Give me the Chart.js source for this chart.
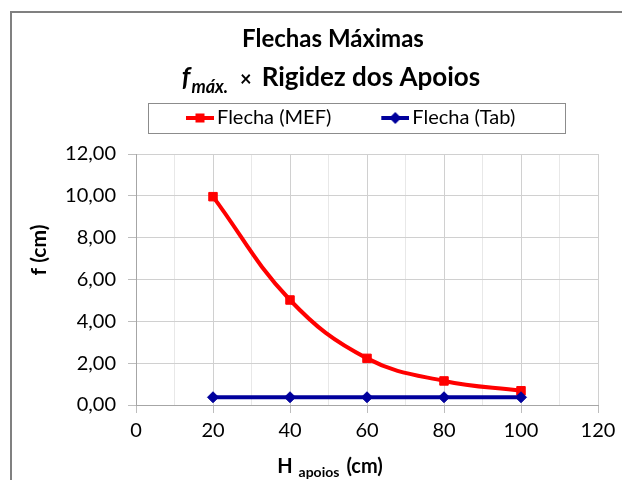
<!DOCTYPE html>
<html>
<head>
<meta charset="utf-8">
<script src="https://cdn.jsdelivr.net/npm/chart.js@4.4.1/dist/chart.umd.min.js"></script>
<style>
  html, body { margin: 0; padding: 0; background: #fff; }
  canvas { display: block; }
</style>
</head>
<body>
<canvas id="myChart" width="622" height="480"></canvas>
<script>
// valores
const apoios = [20, 40, 60, 80, 100];
const flechaMEF = [9.96, 5.02, 2.23, 1.15, 0.68];
const flechaTab = [0.37, 0.37, 0.37, 0.37, 0.37];
const xTickLabels = ['0', '20', '40', '60', '80', '100', '120'];
const yTickLabels = ['0,00', '2,00', '4,00', '6,00', '8,00', '10,00', '12,00'];

const FONT = 'Lato';
const RED = '#ff0000';
const BLUE = '#00009c';
const MARGEM = 21; // espaco transparente antes do marcador da legenda

// marcador da legenda: linha + simbolo
const legendMark = (color, shape) => {
  const c = document.createElement('canvas');
  c.width = MARGEM + 28; c.height = 14;
  const g = c.getContext('2d');
  const mx = MARGEM + 14;
  g.strokeStyle = color; g.lineWidth = 4;
  g.beginPath(); g.moveTo(MARGEM, 7); g.lineTo(MARGEM + 28, 7); g.stroke();
  g.fillStyle = color;
  if (shape === 'rect') {
    g.fillRect(mx - 4.5, 2.5, 9, 9);
  } else {
    g.beginPath(); g.moveTo(mx, 1); g.lineTo(mx + 6, 7); g.lineTo(mx, 13); g.lineTo(mx - 6, 7); g.closePath(); g.fill();
  }
  return c;
};

const drawRuns = (ctx, runs, cx, baseline) => {
  let total = 0;
  runs.forEach(r => { ctx.font = r.font; r.w = ctx.measureText(r.t).width; total += r.w + (r.gap || 0); });
  let x = cx - total / 2;
  ctx.textAlign = 'left';
  ctx.textBaseline = 'alphabetic';
  runs.forEach(r => {
    ctx.font = r.font;
    ctx.fillText(r.t, x, baseline + (r.dy || 0));
    x += r.w + (r.gap || 0);
  });
};

const moldura = {
  id: 'moldura',
  beforeDraw(chart) {
    const ctx = chart.ctx;
    ctx.save();
    ctx.fillStyle = '#fff';
    ctx.fillRect(0, 0, chart.width, chart.height);
    ctx.strokeStyle = '#808080';
    ctx.lineWidth = 2;
    ctx.strokeRect(11, 12, 700, 600);
    ctx.restore();
  },
  afterDraw(chart) {
    const ctx = chart.ctx;
    ctx.save();
    ctx.fillStyle = '#000';
    // titulos
    drawRuns(ctx, [{t: 'Flechas Máximas', font: `bold 24px ${FONT}`}], 333, 47);
    drawRuns(ctx, [
      {t: 'f', font: `italic bold 26px ${FONT}`, gap: 1},
      {t: 'máx.', font: `italic bold 18px ${FONT}`, dy: 7, gap: 12},
      {t: '×', font: `bold 20px ${FONT}`, gap: 10},
      {t: 'Rigidez dos Apoios', font: `bold 26px ${FONT}`}
    ], 331, 86);
    // titulo eixo x
    drawRuns(ctx, [
      {t: 'H', font: `bold 20px ${FONT}`, gap: 6},
      {t: 'apoios', font: `bold 14px ${FONT}`, dy: 4, gap: 7},
      {t: '(cm)', font: `bold 20px ${FONT}`}
    ], 330, 473);
    // titulo eixo y
    ctx.translate(39, 250);
    ctx.rotate(-Math.PI / 2);
    ctx.font = `bold 21px ${FONT}`;
    ctx.textAlign = 'center';
    ctx.textBaseline = 'middle';
    ctx.fillText('f (cm)', 0, 0);
    ctx.restore();

    // caixa da legenda
    const hb = chart.legend.legendHitBoxes;
    if (hb && hb.length) {
      const left = hb[0].left + MARGEM - 7;
      const cy = hb[0].top + hb[0].height / 2;
      ctx.save();
      ctx.strokeStyle = '#8c8c8c';
      ctx.lineWidth = 1;
      ctx.strokeRect(Math.round(left - 38) + 0.5, Math.round(cy - 15) + 0.5, 417, 30);
      ctx.restore();
    }
  }
};

const ctx = document.getElementById('myChart').getContext('2d');
const myChart = new Chart(ctx, {
  type: 'scatter',
  data: {
    datasets: [{
      label: 'Flecha (MEF)',
      data: apoios.map((x, i) => ({x: x, y: flechaMEF[i]})),
      showLine: true,
      tension: 0.4,
      borderColor: RED,
      backgroundColor: RED,
      borderWidth: 4,
      pointStyle: 'rect',
      pointRadius: 6,
      pointBorderWidth: 1,
      pointBorderColor: RED,
      legendMark: legendMark(RED, 'rect'),
      order: 1
    }, {
      label: 'Flecha (Tab)',
      data: apoios.map((x, i) => ({x: x, y: flechaTab[i]})),
      showLine: true,
      borderColor: BLUE,
      backgroundColor: BLUE,
      borderWidth: 4,
      pointStyle: 'rectRot',
      pointRadius: 5.5,
      pointBorderWidth: 1,
      pointBorderColor: BLUE,
      legendMark: legendMark(BLUE, 'diamond'),
      order: 0
    }]
  },
  options: {
    responsive: false,
    animation: false,
    devicePixelRatio: 1,
    layout: { padding: { top: 72, left: 0, right: 24, bottom: 0 } },
    plugins: {
      tooltip: { enabled: false },
      // espaco vazio entre a legenda e a area do grafico
      subtitle: {
        display: true,
        text: '',
        weight: 500,
        padding: 0,
        font: { size: 16, lineHeight: 1 }
      },
      legend: {
        position: 'top',
        fullSize: false,
        align: 'start',
        labels: {
          usePointStyle: true,
          pointStyleWidth: MARGEM + 14,
          padding: 36,
          color: '#000',
          font: { family: FONT, size: 20 },
          generateLabels: chart => chart.data.datasets.map((ds, i) => ({
            text: ds.label,
            pointStyle: ds.legendMark,
            datasetIndex: i,
            hidden: false,
            fontColor: '#000',
            lineWidth: 0,
            strokeStyle: 'rgba(0,0,0,0)',
            fillStyle: 'rgba(0,0,0,0)'
          }))
        }
      }
    },
    scales: {
      x: {
        type: 'linear',
        min: 0,
        max: 120,
        afterFit: s => { s.height = 75; },
        ticks: {
          stepSize: 10,
          autoSkip: false,
          maxRotation: 0,
          padding: 6,
          color: '#000',
          font: { family: FONT, size: 20 },
          callback: v => (v % 20 ? '' : xTickLabels[v / 20])
        },
        grid: {
          color: c => (c.tick && c.tick.value % 20 ? '#e8e8e8' : '#d0d0d0'),
          tickColor: c => (c.tick && c.tick.value % 20 ? 'rgba(0,0,0,0)' : '#bdbdbd'),
          tickLength: 8
        },
        border: { color: '#a6a6a6' }
      },
      y: {
        min: 0,
        max: 12,
        afterFit: s => { s.width = 136; },
        ticks: {
          stepSize: 2,
          padding: 12,
          color: '#000',
          font: { family: FONT, size: 20 },
          callback: v => yTickLabels[v / 2]
        },
        grid: { color: '#d0d0d0', tickColor: '#bdbdbd', tickLength: 8 },
        border: { color: '#a6a6a6' }
      }
    }
  },
  plugins: [moldura]
});
</script>
</body>
</html>
